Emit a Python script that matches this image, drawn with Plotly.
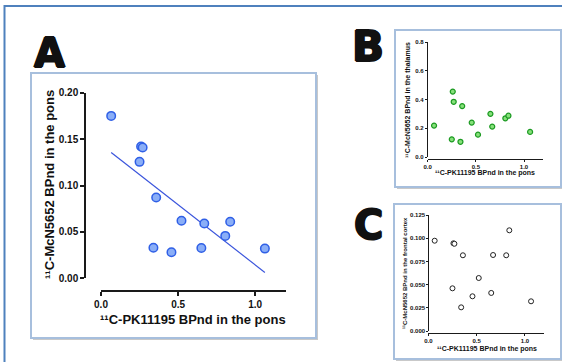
import numpy as np
import plotly.graph_objects as go

# ---------------- data ----------------
pons_pk = [0.066, 0.26, 0.27, 0.25, 0.358, 0.34, 0.457, 0.522, 0.651, 0.67, 0.806, 0.838, 1.063]
mcn_pons = [0.175, 0.142, 0.141, 0.1255, 0.087, 0.033, 0.028, 0.062, 0.0327, 0.059, 0.0457, 0.061, 0.032]
mcn_thal = [0.219, 0.456, 0.385, 0.123, 0.355, 0.106, 0.240, 0.156, 0.301, 0.212, 0.270, 0.288, 0.175]
mcn_front = [0.0973, 0.0945, 0.094, 0.046, 0.0816, 0.0255, 0.0374, 0.0571, 0.041, 0.0819, 0.0816, 0.1085, 0.032]

x_ticks = [0.0, 0.5, 1.0]
a_y_ticks = [0.00, 0.05, 0.10, 0.15, 0.20]
b_y_ticks = [0.0, 0.2, 0.4, 0.6, 0.8]
c_y_ticks = [0.000, 0.025, 0.050, 0.075, 0.100, 0.125]

x_title = "¹¹C-PK11195 BPnd in the pons"
a_y_title = "¹¹C-McN5652 BPnd in the pons"
b_y_title = "¹¹C-McN5652 BPnd in the thalamus"
c_y_title = "¹¹C-McN5652 BPnd in the frontal cortex"

W, H = 562, 362
def px(v):
    return v / W
def py(v):
    return 1 - v / H

FONT = "Liberation Sans, Arial, sans-serif"
BIG = "DejaVu Sans, Liberation Sans, sans-serif"

fig = go.Figure()

# regression line for panel A
slope, icpt = np.polyfit(pons_pk, mcn_pons, 1)
lx = np.array([min(pons_pk), max(pons_pk)])
fig.add_trace(go.Scatter(x=lx, y=slope * lx + icpt, mode="lines",
                         line=dict(color="#3b55dc", width=1.2),
                         xaxis="x", yaxis="y", hoverinfo="skip"))
fig.add_trace(go.Scatter(x=pons_pk, y=mcn_pons, mode="markers",
                         marker=dict(size=8.5, color="#8aaef7", line=dict(color="#2f5fe6", width=1.5)),
                         xaxis="x", yaxis="y", cliponaxis=False))
fig.add_trace(go.Scatter(x=pons_pk, y=mcn_thal, mode="markers",
                         marker=dict(size=5, color="#86e07a", line=dict(color="#1c9a22", width=1.2)),
                         xaxis="x2", yaxis="y2", cliponaxis=False))
fig.add_trace(go.Scatter(x=pons_pk, y=mcn_front, mode="markers",
                         marker=dict(size=5, color="white", line=dict(color="#222222", width=1)),
                         xaxis="x3", yaxis="y3", cliponaxis=False))

def xax(d0, d1, pos, ticks, fmt, fsize, lw, tl):
    return dict(domain=[px(d0), px(d1)], range=[0, 1.2], anchor="free", position=py(pos),
                tickvals=ticks, tickformat=fmt, showline=True, linecolor="#1a1a1a", linewidth=lw,
                ticks="outside", ticklen=tl, tickwidth=lw, tickcolor="#1a1a1a",
                showgrid=False, zeroline=False,
                tickfont=dict(family=FONT, size=fsize, color="#111", weight="bold"))

def yax(d0, d1, pos, rng, ticks, fmt, fsize, lw, tl):
    return dict(domain=[py(d1), py(d0)], range=rng, anchor="free", position=px(pos),
                tickvals=ticks, tickformat=fmt, showline=True, linecolor="#1a1a1a", linewidth=lw,
                ticks="outside", ticklen=tl, tickwidth=lw, tickcolor="#1a1a1a",
                showgrid=False, zeroline=False,
                tickfont=dict(family=FONT, size=fsize, color="#111", weight="bold"))

shapes = []
def box(x0, y0, x1, y1):
    shapes.append(dict(type="rect", xref="paper", yref="paper", layer="below",
                       x0=px(x0 + 2), x1=px(x1 + 2), y0=py(y1 + 2), y1=py(y0 + 2),
                       line=dict(width=0), fillcolor="#c9c9c9"))
    shapes.append(dict(type="rect", xref="paper", yref="paper", layer="below",
                       x0=px(x0), x1=px(x1), y0=py(y1), y1=py(y0),
                       line=dict(color="#a7bfdd", width=2), fillcolor="white"))

# outer frame
shapes.append(dict(type="rect", xref="paper", yref="paper", layer="below",
                   x0=px(4.5), x1=px(575), y0=py(375), y1=py(6),
                   line=dict(color="#4f81bd", width=2), fillcolor="white"))
box(31, 73, 316, 338)
box(395, 30, 561, 187)
box(394, 204, 561, 359)

ann = []
def label(text, x, y, size, angle=0, family=FONT, shadow=None):
    f = dict(family=family, size=size, color="#111", weight="bold")
    if shadow:
        f["shadow"] = shadow
    ann.append(dict(text=text, x=px(x), y=py(y), xref="paper", yref="paper",
                    showarrow=False, xanchor="center", yanchor="middle", textangle=angle,
                    font=f))

heavy = "1px 0 0 #111, -1px 0 0 #111, 0 1px 0 #111, 0 -1px 0 #111"
label("A", 49.5, 53, 40, family=BIG, shadow=heavy)
label("B", 368, 47, 42, family=BIG, shadow=heavy)
label("C", 368, 225, 40, family=BIG, shadow=heavy)

label(x_title, 193, 319, 13)
label(a_y_title, 49, 185, 13, angle=-90)
label(x_title, 485, 173, 7)
label(b_y_title, 408, 100, 7, angle=-90)
label(x_title, 487, 349, 7)
label(c_y_title, 405, 273, 6, angle=-90)

fig.update_layout(
    width=W, height=H, margin=dict(l=0, r=0, t=0, b=0, autoexpand=False),
    paper_bgcolor="white", plot_bgcolor="rgba(0,0,0,0)", showlegend=False,
    xaxis=xax(101, 286, 291, x_ticks, ".1f", 10, 1.5, 4),
    yaxis=yax(92.7, 278.3, 85, [0, 0.2], a_y_ticks, ".2f", 10, 1.5, 4),
    xaxis2=xax(427.7, 543.3, 158.5, x_ticks, ".1f", 6, 1, 2),
    yaxis2=yax(42.3, 157, 426.7, [0, 0.8], b_y_ticks, ".1f", 6, 1, 2),
    xaxis3=xax(428.3, 544.3, 332.7, x_ticks, ".1f", 6, 1, 2),
    yaxis3=yax(215, 331, 428.3, [0, 0.125], c_y_ticks, ".3f", 6, 1, 2),
    shapes=shapes, annotations=ann,
)

fig.write_html("out.html", config={"displayModeBar": False},
               post_script="document.body.style.margin='0';document.body.style.overflow='hidden';")
